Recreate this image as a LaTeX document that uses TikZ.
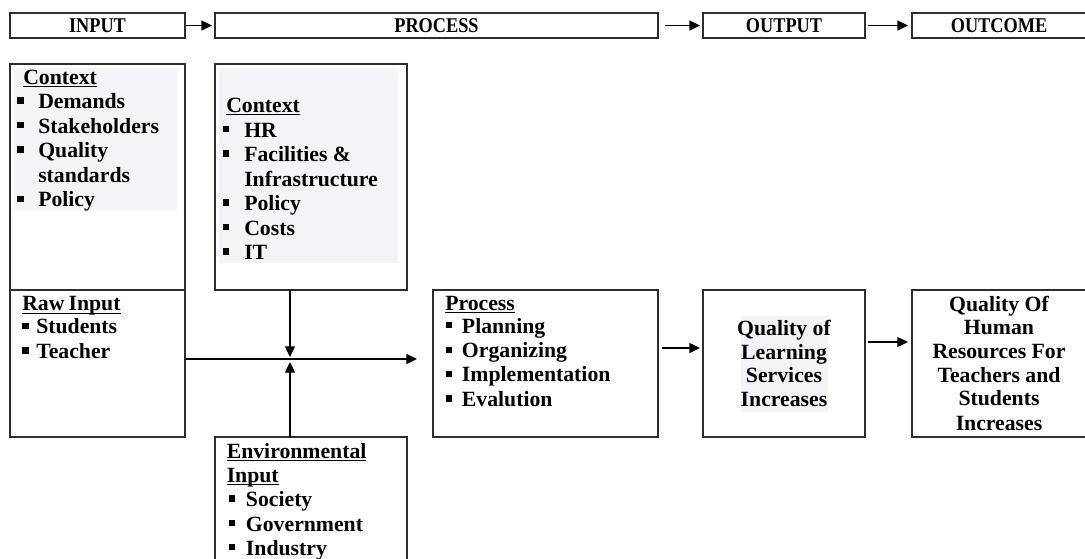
\documentclass[tikz,border=0pt]{standalone}
\usepackage{fontspec}
\setmainfont{Liberation Serif}
\usetikzlibrary{arrows.meta}
\newlength\pxu \setlength\pxu{0.75pt}
\definecolor{bgshade}{RGB}{242,244,248}
\definecolor{edge}{RGB}{45,45,45}
\newcommand\bul{\rule[0.21em]{0.3em}{0.3em}}
\newcommand\itm[2]{\makebox[#1\pxu][l]{\bul}#2}
\newcommand\hd[1]{\setbox0\hbox{#1}\rlap{\rule[-2.6pt]{\wd0}{0.9pt}}\box0}
\begin{document}
\begin{tikzpicture}[x=0.75pt,y=-0.75pt,
  box/.style={draw=edge, line width=1pt, inner sep=0pt, outer sep=0pt, anchor=north west},
  txt/.style={inner sep=0pt, anchor=base west, font=\fontsize{16.3}{19}\selectfont\bfseries},
  ctxt/.style={txt, anchor=base},
  hdr/.style={box, font=\fontsize{15.75}{18}\selectfont\bfseries},
  arr/.style={-{Triangle[length=8pt,width=7.5pt]}, line width=1pt, draw=black},
]
\useasboundingbox (0,0) rectangle (1085,558);

% ---------- header row ----------
\node[hdr, minimum width=175\pxu, minimum height=25\pxu] (hin) at (10,13) {\scalebox{0.87}[1]{INPUT}};
\node[hdr, minimum width=443\pxu, minimum height=25\pxu] (hproc) at (215,13) {\scalebox{0.87}[1]{PROCESS}};
\node[hdr, minimum width=162\pxu, minimum height=25\pxu] (hout) at (703,13) {\scalebox{0.87}[1]{OUTPUT}};
\node[box, minimum width=178\pxu, minimum height=25\pxu] (hoc) at (912,13) {};
\node[font=\fontsize{15.75}{18}\selectfont\bfseries, inner sep=0pt] (hoct) at (999,25.3) {\scalebox{0.87}[1]{OUTCOME}};

\draw[arr, shorten <=1\pxu, shorten >=3\pxu] (hin.east) -- (hproc.west);
\draw[arr, shorten <=7\pxu, shorten >=3\pxu] (hproc.east) -- (hout.west);
\draw[arr, shorten <=3\pxu, shorten >=4\pxu] (hout.east) -- (hoc.west);

% ---------- shaded backgrounds ----------
\fill[bgshade] (14,68) rectangle (177,210);
\fill[bgshade] (219,68) rectangle (398,263);

% ---------- boxes ----------
\node[box, minimum width=175\pxu, minimum height=373\pxu] (left) at (10,64) {};
\node[box, minimum width=192\pxu, minimum height=226\pxu] (ctx) at (215,64) {};
\node[box, minimum width=192\pxu, minimum height=130\pxu] (env) at (215,437) {};
\node[box, minimum width=225\pxu, minimum height=147\pxu] (proc) at (433,290) {};
\node[box, minimum width=162\pxu, minimum height=147\pxu] (qls) at (703,290) {};
\node[box, minimum width=178\pxu, minimum height=147\pxu] (qhr) at (912,290) {};
\draw[draw=edge, line width=1pt] (left.west |- ctx.south) -- (left.east |- ctx.south);

% ---------- left context ----------
\node[txt] (c1h) at (23,84) {\hd{Context}};
\node[txt] (c1a) at (17,108.4) {\itm{21}{Demands}};
\node[txt] (c1b) at (17,133) {\itm{21}{Stakeholders}};
\node[txt] (c1c) at (17,157.4) {\itm{21}{Quality}};
\node[txt] (c1d) at (38,182) {standards};
\node[txt] (c1e) at (17,206.6) {\itm{21}{Policy}};

% ---------- raw input ----------
\node[txt] (rh) at (22,310.7) {\hd{Raw\kern-1pt\ Input}};
\node[txt] (ra) at (22,333.8) {\itm{14}{Students}};
\node[txt] (rb) at (22,358.3) {\itm{14}{Teacher}};

% ---------- middle context ----------
\node[txt] (c2h) at (226,112) {\hd{Context}};
\node[txt] (c2a) at (222.5,137) {\itm{21.5}{HR}};
\node[txt] (c2b) at (222.5,161.5) {\itm{21.5}{Facilities \&}};
\node[txt] (c2c) at (244,186) {Infrastructure};
\node[txt] (c2d) at (222.5,210.5) {\itm{21.5}{Policy}};
\node[txt] (c2e) at (222.5,235) {\itm{21.5}{Costs}};
\node[txt] (c2f) at (222.5,259.5) {\itm{21.5}{IT}};

% ---------- environmental input ----------
\node[txt] (eh1) at (226.5,458) {\hd{Environmental}};
\node[txt] (eh2) at (226.5,482) {\hd{Input}};
\node[txt] (ea) at (228.7,506.5) {\itm{17}{Society}};
\node[txt] (eb) at (228.7,531) {\itm{17}{Government}};
\node[txt] (ec) at (228.7,555) {\itm{17}{Industry}};

% ---------- process ----------
\node[txt] (ph) at (445,310) {\hd{Process}};
\node[txt] (pa) at (445.7,333) {\itm{16}{Planning}};
\node[txt] (pb) at (445.7,357.7) {\itm{16}{Organizing}};
\node[txt] (pc) at (445.7,381.7) {\itm{16}{Implementation}};
\node[txt] (pd) at (445.7,406.5) {\itm{16}{Evalution}};

% ---------- quality of learning ----------
\fill[bgshade] (741,316) rectangle (828,412);
\node[ctxt] (qa) at (784,335) {Quality of};
\node[ctxt] (qb) at (784,359) {Learning};
\node[ctxt] (qc) at (784,382) {Services};
\node[ctxt] (qd) at (784,406.5) {Increases};

% ---------- quality of human resources ----------
\node[ctxt] (ha) at (999,311.7) {Quality Of};
\node[ctxt] (hb) at (999,334.5) {Human};
\node[ctxt] (hc) at (999,358) {Resources For};
\node[ctxt] (hd) at (999,382) {Teachers and};
\node[ctxt] (he) at (999,405.5) {Students};
\node[ctxt] (hf) at (999,430) {Increases};

% ---------- connectors ----------
\coordinate (j) at (290,359);
\coordinate (jt) at (290,357);
\coordinate (jb) at (290,362);
\draw[arr] (jt |- ctx.south) -- (jt);
\draw[arr] (jb |- env.north) -- (jb);
\draw[arr, shorten >=16\pxu] (left.east |- j) -- (j -| proc.west);

\coordinate (a1) at (680,348);
\coordinate (a2) at (888,342);
\draw[arr, shorten <=4\pxu, shorten >=3\pxu] (proc.east |- a1) -- (qls.west |- a1);
\draw[arr, shorten <=3\pxu, shorten >=4\pxu] (qls.east |- a2) -- (qhr.west |- a2);
\end{tikzpicture}
\end{document}
